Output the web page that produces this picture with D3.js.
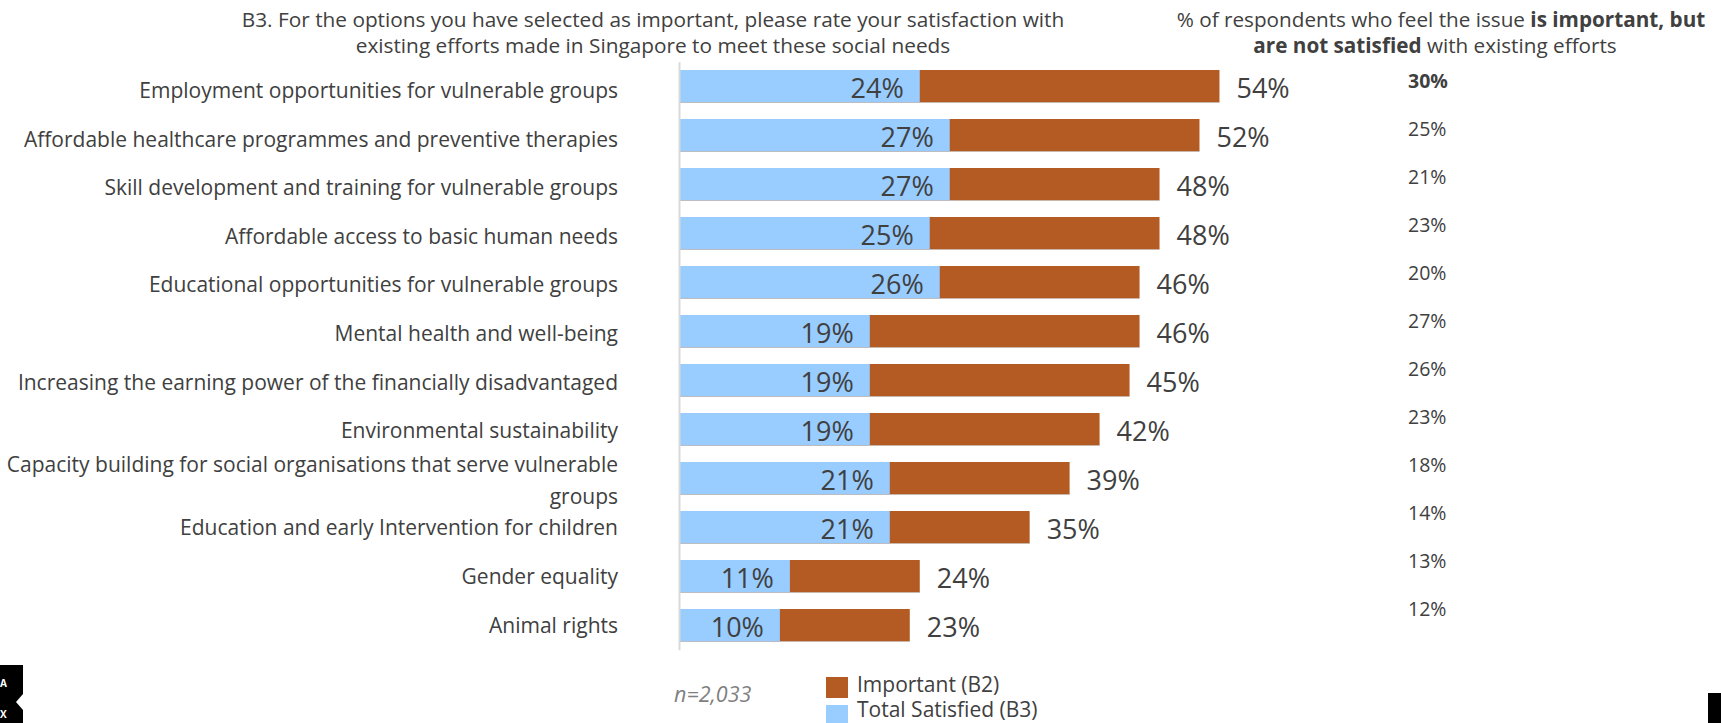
<!DOCTYPE html>
<html><head><meta charset="utf-8">
<script src="https://cdn.jsdelivr.net/npm/d3@7"></script>
<style>body{margin:0;background:#fff}svg{display:block}text{font-family:"Open Sans",sans-serif}</style>
</head><body>
<svg id="c" width="1721" height="723"></svg>
<script>
const categories = [
  "Employment opportunities for vulnerable groups",
  "Affordable healthcare programmes and preventive therapies",
  "Skill development and training for vulnerable groups",
  "Affordable access to basic human needs",
  "Educational opportunities for vulnerable groups",
  "Mental health and well-being",
  "Increasing the earning power of the financially disadvantaged",
  "Environmental sustainability",
  "Capacity building for social organisations that serve vulnerable groups",
  "Education and early Intervention for children",
  "Gender equality",
  "Animal rights"
];
const important = [54, 52, 48, 48, 46, 46, 45, 42, 39, 35, 24, 23];
const satisfied = [24, 27, 27, 25, 26, 19, 19, 19, 21, 21, 11, 10];
const gap = [30, 25, 21, 23, 20, 27, 26, 23, 18, 14, 13, 12];
const seriesNames = ["Important (B2)", "Total Satisfied (B3)"];

const svg = d3.select("#c");
const ink = "#404040";
const cImp = "#B45A23", cSat = "#99CCFF";

const y = d3.scaleBand().domain(categories).range([61.75, 649.75]).paddingInner(0.337).paddingOuter(0.1685);
const x = d3.scaleLinear().domain([0, 100]).range([680, 1679]);
const yr = d3.scalePoint().domain(categories).range([81, 609]);
const yl = d3.scalePoint().domain(categories).range([91, 625.5]);

// title
const title = svg.append("text").attr("text-anchor", "middle").attr("fill", ink).style("font-size", "20.8px");
title.append("tspan").attr("x", 653).attr("y", 27).text("B3. For the options you have selected as important, please rate your satisfaction with");
title.append("tspan").attr("x", 653).attr("y", 53).text("existing efforts made in Singapore to meet these social needs");

const rt = svg.append("text").attr("text-anchor", "middle").attr("fill", ink).style("font-size", "20.7px");
const l1 = rt.append("tspan").attr("x", 1441).attr("y", 27);
l1.append("tspan").text("% of respondents who feel the issue ");
l1.append("tspan").attr("font-weight", "bold").text("is important, but");
const l2 = rt.append("tspan").attr("x", 1435).attr("y", 53);
l2.append("tspan").attr("font-weight", "bold").text("are not satisfied");
l2.append("tspan").text(" with existing efforts");

// bars
const g = svg.append("g");
g.selectAll("rect.imp").data(categories).join("rect").attr("class", "imp")
  .attr("x", x(0)).attr("y", d => y(d)).attr("height", y.bandwidth())
  .attr("width", (d, i) => x(important[i]) - x(0)).attr("fill", cImp);
g.selectAll("rect.sat").data(categories).join("rect").attr("class", "sat")
  .attr("x", x(0)).attr("y", d => y(d)).attr("height", y.bandwidth())
  .attr("width", (d, i) => x(satisfied[i]) - x(0)).attr("fill", cSat);
g.selectAll("line.sh").data(categories).join("line").attr("class", "sh")
  .attr("x1", x(0)).attr("x2", (d, i) => x(important[i]))
  .attr("y1", d => y(d) + y.bandwidth()).attr("y2", d => y(d) + y.bandwidth())
  .attr("stroke", "#bfbfbf").attr("stroke-width", 1).attr("opacity", 0.6);

// axis
const yAxis = d3.axisLeft(y).tickSize(0).tickPadding(0).tickFormat("");
const ax = svg.append("g").attr("transform", `translate(${x(0) - 1},0)`).call(yAxis);
ax.select(".domain").attr("stroke", "#d9d9d9").attr("stroke-width", 2);

// category labels
const lab = svg.append("g").selectAll("text").data(categories).join("text")
  .attr("text-anchor", "end").attr("fill", ink).style("font-size", "21px");
lab.each(function(d) {
  const t = d3.select(this);
  const cy = yl(d);
  if (d.startsWith("Capacity building")) {
    t.append("tspan").attr("x", 618).attr("y", cy - 15 + 7).text("Capacity building for social organisations that serve vulnerable");
    t.append("tspan").attr("x", 618).attr("y", cy + 17 + 7).text("groups");
  } else {
    t.attr("x", 618).attr("y", cy + 7).text(d);
  }
});

// value labels
svg.append("g").selectAll("text").data(categories).join("text")
  .attr("x", (d, i) => x(satisfied[i]) - 16).attr("y", d => y(d) + y.bandwidth() / 2 + 12)
  .attr("text-anchor", "end").attr("fill", ink).style("font-size", "27px")
  .text((d, i) => satisfied[i] + "%");
svg.append("g").selectAll("text").data(categories).join("text")
  .attr("x", (d, i) => x(important[i]) + 17).attr("y", d => y(d) + y.bandwidth() / 2 + 12)
  .attr("text-anchor", "start").attr("fill", ink).style("font-size", "27px")
  .text((d, i) => important[i] + "%");

// right column
svg.append("g").selectAll("text").data(categories).join("text")
  .attr("x", 1408).attr("y", d => yr(d) + 7)
  .attr("fill", ink).style("font-size", "19.5px")
  .attr("font-weight", (d, i) => i === 0 ? "bold" : "normal")
  .text((d, i) => gap[i] + "%");

// footnote
svg.append("text").attr("x", 674).attr("y", 702).attr("fill", "#7f7f7f")
  .style("font-size", "21.5px").style("font-style", "italic").text("n=2,033");

// legend
const leg = svg.append("g");
const legColors = [cImp, cSat];
seriesNames.forEach((s, i) => {
  leg.append("rect").attr("x", 826).attr("y", 677 + i * 28).attr("width", 22).attr("height", 21).attr("fill", legColors[i]);
  leg.append("text").attr("x", 857).attr("y", 692 + i * 25).attr("fill", ink).style("font-size", "21px").text(s);
});

// decorative edge tabs
svg.append("rect").attr("x", 0).attr("y", 665).attr("width", 23).attr("height", 58).attr("fill", "#000");
svg.append("path").attr("d", "M23,694 L16,702 L23,710 Z").attr("fill", "#fff");
svg.append("text").attr("x", 0).attr("y", 687).attr("fill", "#fff").attr("font-weight", "bold").style("font-size", "10px").text("A");
svg.append("text").attr("x", 0).attr("y", 718).attr("fill", "#fff").attr("font-weight", "bold").style("font-size", "10px").text("X");
svg.append("rect").attr("x", 1708).attr("y", 693).attr("width", 13).attr("height", 30).attr("fill", "#000");
</script>
</body></html>
